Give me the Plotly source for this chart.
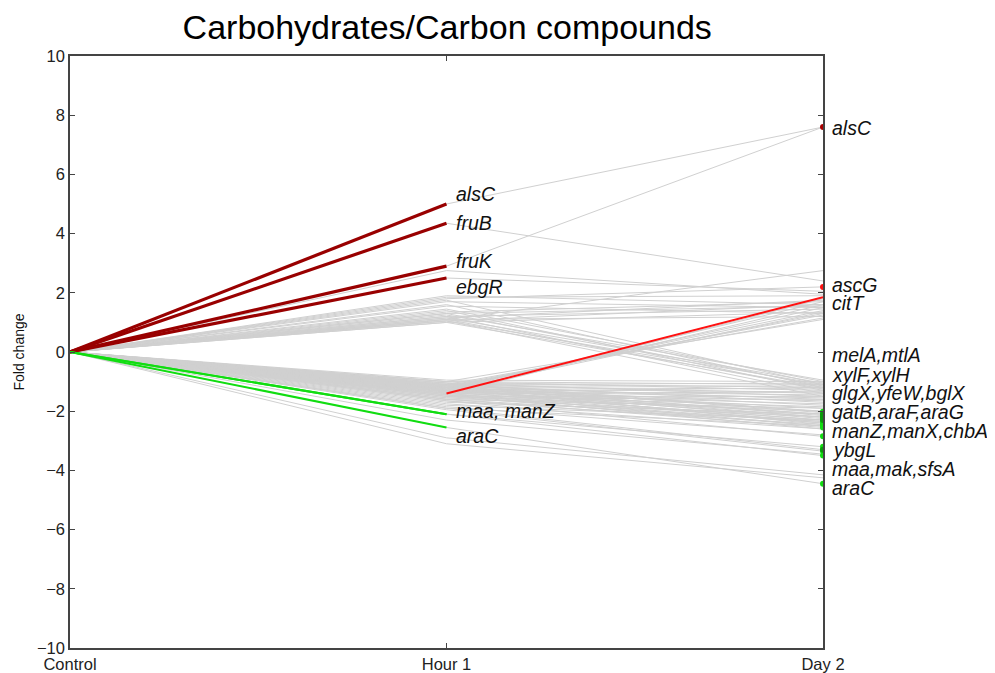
import plotly.graph_objects as go

# time points
stages = ["Control", "Hour 1", "Day 2"]

# fold change per gene at Hour 1 and Day 2 (Control is 0 for all)
hour1 = [
    5.0, 4.35, 2.9, 2.5, 2.75, 1.8, 1.1, 1.9, 1.85, 1.75, 1.7, 1.6, 1.55, 1.45, 1.4,
    1.35, 1.3, 1.25, 1.2, 1.2, 1.15, 1.1, 1.1, 1.05, 1.05, 1.0, 1.0, 1.15, 1.3, 1.05,
    -1.4, -1.3, -1.25, -1.2, -1.35, -1.15, -1.1, -1.45, -1.2, -1.0, -1.3,
    -0.95, -1.0, -1.0, -1.05, -1.05, -1.1, -1.1, -1.1, -1.15, -1.15, -1.15, -1.2, -1.2,
    -1.2, -1.25, -1.25, -1.25, -1.3, -1.3, -1.3, -1.35, -1.35, -1.35, -1.4, -1.4, -1.4,
    -1.45, -1.45, -1.5, -1.5, -1.55, -1.55, -1.6, -1.6, -1.65, -1.7, -1.75, -1.8, -1.85,
    -1.9, -3.1, -2.9, -2.3,
    -1.05, -1.1, -1.2, -1.15, -1.3, -1.25, -1.35, -1.4, -1.45, -1.2, -1.5, -1.6, -1.65,
    -2.1, -1.9, -2.1, -1.95, -2.55,
]
day2 = [
    7.6, 2.4, 7.6, 2.05, 1.95, 2.2, 2.75, 1.6, 1.9, -1.1, 1.5, -1.2, 1.3, -1.0, -1.3,
    1.7, -1.15, -0.95, 1.45, -1.4, -1.05, -1.25, 1.2, -1.5, -1.1, 1.35, -1.2, 1.75, 1.55, 1.6,
    1.85, 1.7, 1.5, 1.4, 1.6, 1.25, 1.15, 1.8, 1.3, 1.1, 1.35,
    -1.0, -1.1, -1.3, -1.2, -1.5, -1.05, -1.4, -1.7, -1.15, -1.6, -2.0, -1.25, -1.8,
    -2.2, -1.35, -1.9, -2.4, -1.45, -2.1, -1.55, -1.65, -2.3, -1.2, -1.75, -2.5, -1.35,
    -1.85, -2.6, -2.0, -1.5, -2.2, -1.6, -2.35, -1.9, -2.45, -2.1, -2.6, -2.3, -2.8,
    -2.5, -4.25, -4.15, -3.45,
    -2.02, -2.05, -2.1, -2.15, -2.2, -2.25, -2.3, -2.35, -2.4, -2.45, -2.5, -2.55, -2.85,
    -3.2, -3.3, -3.5, -3.35, -4.45,
]

# genes highlighted at Hour 1 (index into the arrays above)
hour1_up = [0, 1, 2, 3]            # alsC, fruB, fruK, ebgR
hour1_down = [97, 99, 101]         # maa, manZ, araC
# genes highlighted at Day 2
day2_up_dark = [0]                 # alsC
day2_up = [5]                      # ascG
day2_rising = [30]                 # citT
day2_down = list(range(84, 102))
day2_down_dark = [86, 88, 90, 98]  # overlapping dots look darker

hour1_labels = ["alsC", "fruB", "fruK", "ebgR", "maa, manZ", "araC"]
day2_labels = ["alsC", "ascG", "citT", "melA,mtlA", "xylF,xylH", "glgX,yfeW,bglX",
               "gatB,araF,araG", "manZ,manX,chbA", "ybgL", "maa,mak,sfsA", "araC"]

# label anchor heights (layout only)
hour1_label_y = [5.33, 4.35, 3.06, 2.18, -2.0, -2.85]
day2_label_y = [7.56, 2.25, 1.66, -0.1, -0.77, -1.38, -2.02, -2.67, -3.31, -3.95, -4.6]

fig = go.Figure()

# all genes in light gray
for h, d in zip(hour1, day2):
    fig.add_trace(go.Scatter(x=[0, 1, 2], y=[0, h, d], mode="lines",
                             line=dict(color="#d0d0d0", width=1), hoverinfo="skip"))

for i in hour1_up:
    fig.add_trace(go.Scatter(x=[0, 1], y=[0, hour1[i]], mode="lines",
                             line=dict(color="#990000", width=3.2)))
for i in hour1_down:
    fig.add_trace(go.Scatter(x=[0, 1], y=[0, hour1[i]], mode="lines",
                             line=dict(color="#11dd11", width=2)))
for i in day2_rising:
    fig.add_trace(go.Scatter(x=[1, 2], y=[hour1[i], day2[i]], mode="lines",
                             line=dict(color="#ff1111", width=2)))

fig.add_trace(go.Scatter(x=[2] * len(day2_down), y=[day2[i] for i in day2_down],
                         mode="markers", marker=dict(color="#11dd11", size=6)))
fig.add_trace(go.Scatter(x=[2] * len(day2_down_dark), y=[day2[i] for i in day2_down_dark],
                         mode="markers", marker=dict(color="#0b9a0b", size=6)))
fig.add_trace(go.Scatter(x=[2] * len(day2_up), y=[day2[i] for i in day2_up],
                         mode="markers", marker=dict(color="#ff1111", size=6)))
fig.add_trace(go.Scatter(x=[2] * len(day2_up_dark), y=[day2[i] for i in day2_up_dark],
                         mode="markers", marker=dict(color="#aa0000", size=6)))

label_font = dict(family="Liberation Sans, Arial, sans-serif", size=19.5, color="#111111",
                  style="italic")
for txt, y in zip(hour1_labels, hour1_label_y):
    fig.add_annotation(x=1, y=y, text=txt, showarrow=False, xanchor="left",
                       xshift=7, font=label_font)
for txt, y in zip(day2_labels, day2_label_y):
    fig.add_annotation(x=2, y=y, text=txt, showarrow=False, xanchor="left",
                       xshift=7, font=label_font)

axis_style = dict(showline=True, linecolor="#444444", linewidth=1.5, mirror="allticks",
                  ticks="inside", ticklen=5, tickcolor="#444444", showgrid=False,
                  zeroline=False, automargin=False,
                  tickfont=dict(family="Liberation Sans, Arial, sans-serif", size=16.5,
                                color="#222222"))

# page body adds an 8px offset, so the figure is 8px smaller than the window
fig.update_layout(
    width=987, height=665,
    paper_bgcolor="white", plot_bgcolor="white",
    showlegend=False,
    margin=dict(l=62, r=172, t=48, b=25, autoexpand=False),
    title=dict(text="Carbohydrates/Carbon compounds", x=0.445, xanchor="center",
               y=0.971, yanchor="middle",
               font=dict(family="Liberation Sans, Arial, sans-serif", size=34,
                         color="#000000")),
    xaxis=dict(range=[0, 2], tickvals=[0, 1, 2], ticktext=stages, **axis_style),
    yaxis=dict(range=[-10, 10], tickvals=list(range(-10, 11, 2)),
               title=dict(text="Fold change", standoff=9,
                          font=dict(family="Liberation Sans, Arial, sans-serif",
                                    size=14, color="#111111")),
               **axis_style),
)
fig.update_xaxes(ticklabelstandoff=0)

fig.write_html("out.html")
